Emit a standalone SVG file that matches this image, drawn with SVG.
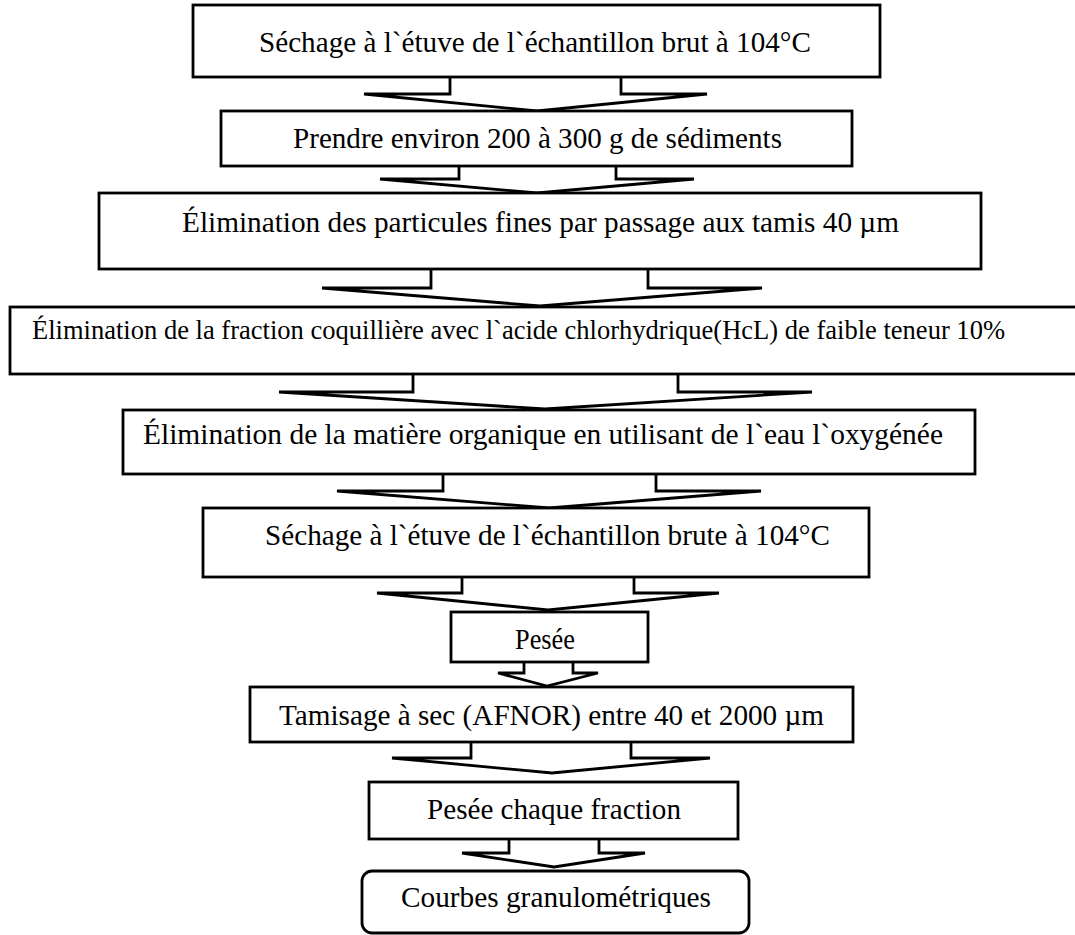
<svg xmlns="http://www.w3.org/2000/svg" width="1075" height="935" viewBox="0 0 1075 935">
<style>
.box{fill:#fff;stroke:#000;stroke-width:2.8}
.arr{fill:#fff;stroke:#000;stroke-width:2.8;stroke-linejoin:miter}
.t{font-family:"Liberation Serif","Times New Roman",serif;font-size:29px;fill:#000}
</style>
<rect width="1075" height="935" fill="#fff"/>
<g id="connectors">
<polyline class="arr" points="450,77 450,94 364,94 537,111 707,94 621,94 621,77"/>
<polyline class="arr" points="459,166 459,179 380,179 537,193 694,179 616,179 616,166"/>
<polyline class="arr" points="431,269 431,288 322,288 540,306 762,288 648,288 648,269"/>
<polyline class="arr" points="413,374 413,392 279,392 545,409 812,392 678,392 678,374"/>
<polyline class="arr" points="443,474 443,491 337,491 549,508 761,491 656,491 656,474"/>
<polyline class="arr" points="462,577 462,593 377,593 548,610 719,593 634,593 634,577"/>
<polyline class="arr" points="524,662 524,673 498,673 547,686 598,673 573,673 573,662"/>
<polyline class="arr" points="471,742 471,758 392,758 552,773 710,758 631,758 631,742"/>
<polyline class="arr" points="509,839 509,853 462,853 554,867 645,853 599,853 599,839"/>
</g>
<g id="n1"><rect class="box" x="193" y="5" width="687" height="72"/><text class="t" x="259" y="52" textLength="552" lengthAdjust="spacingAndGlyphs">Séchage à l`étuve de l`échantillon brut à 104°C</text></g>
<g id="n2"><rect class="box" x="221" y="111" width="631" height="55"/><text class="t" x="293" y="148" textLength="489" lengthAdjust="spacingAndGlyphs">Prendre environ 200 à 300 g de sédiments</text></g>
<g id="n3"><rect class="box" x="99" y="193" width="882" height="76"/><text class="t" x="182" y="232" textLength="717" lengthAdjust="spacingAndGlyphs">Élimination des particules fines par passage aux tamis 40 µm</text></g>
<g id="n4"><rect class="box" x="10" y="307" width="1080" height="67"/><text class="t" x="32" y="339" style="font-size:27px" textLength="973" lengthAdjust="spacingAndGlyphs">Élimination de la fraction coquillière avec l`acide chlorhydrique(HcL) de faible teneur 10%</text></g>
<g id="n5"><rect class="box" x="123" y="410" width="852" height="64"/><text class="t" x="143" y="444" textLength="800" lengthAdjust="spacingAndGlyphs">Élimination de la matière organique en utilisant de l`eau l`oxygénée</text></g>
<g id="n6"><rect class="box" x="203" y="508" width="666" height="69"/><text class="t" x="265" y="545" textLength="565" lengthAdjust="spacingAndGlyphs">Séchage à l`étuve de l`échantillon brute à 104°C</text></g>
<g id="n7"><rect class="box" x="451" y="612" width="197" height="50"/><text class="t" x="515" y="649" textLength="60" lengthAdjust="spacingAndGlyphs">Pesée</text></g>
<g id="n8"><rect class="box" x="250" y="687" width="603" height="55"/><text class="t" x="279" y="725" textLength="545" lengthAdjust="spacingAndGlyphs">Tamisage à sec (AFNOR) entre 40 et 2000 µm</text></g>
<g id="n9"><rect class="box" x="369" y="782" width="369" height="57"/><text class="t" x="427" y="819" textLength="254" lengthAdjust="spacingAndGlyphs">Pesée chaque fraction</text></g>
<g id="n10"><rect class="box" x="362" y="871" width="387" height="62" rx="10"/><text class="t" x="401" y="907" textLength="310" lengthAdjust="spacingAndGlyphs">Courbes granulométriques</text></g>
</svg>
